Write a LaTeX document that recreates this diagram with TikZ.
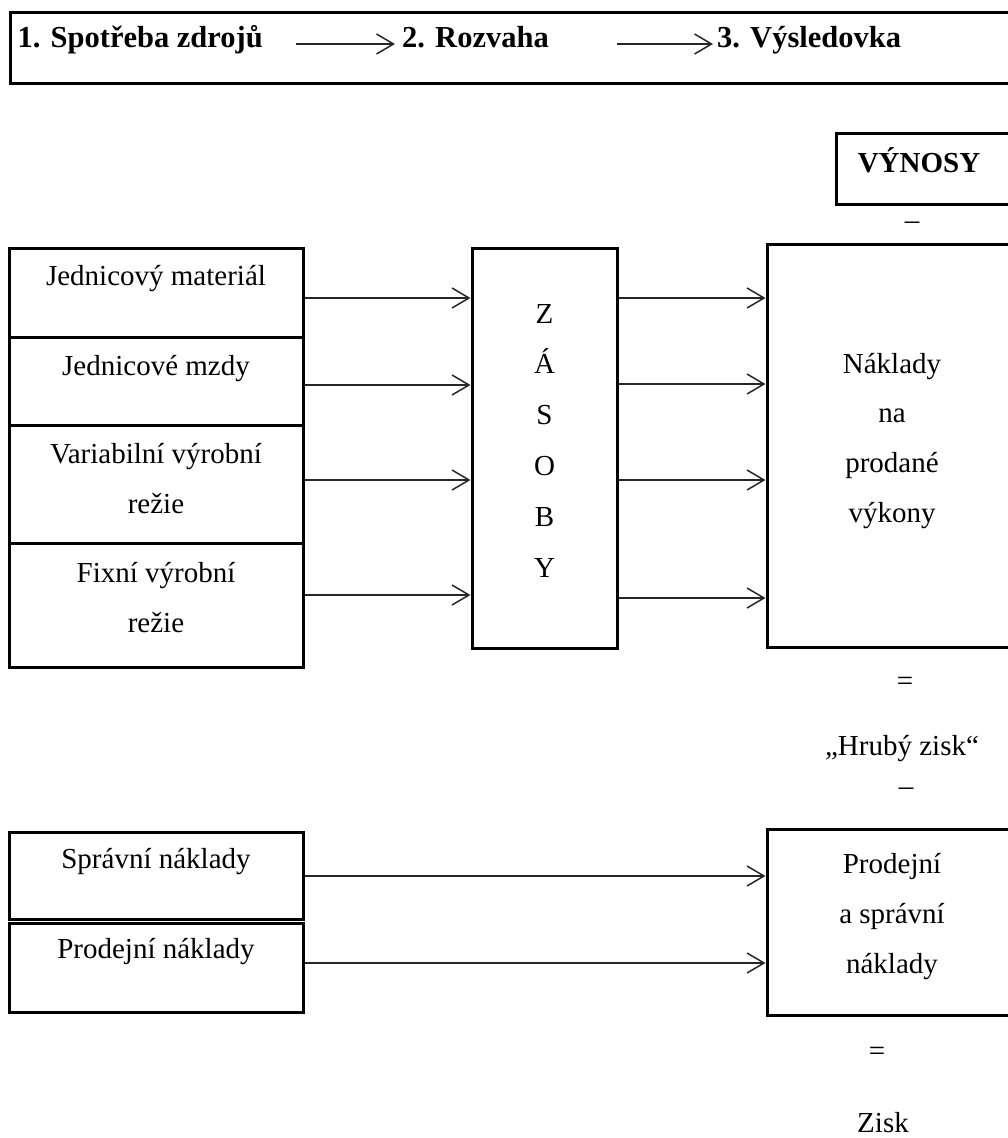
\documentclass[tikz,border=0pt]{standalone}
\usepackage{fontspec}
\setmainfont{Liberation Serif}
\usetikzlibrary{arrows.meta}
\begin{document}
\begin{tikzpicture}[x=1pt,y=-1pt,
  box/.style={draw, line width=3pt, inner sep=0pt},
  txt/.style={inner sep=0pt, anchor=base, font=\fontsize{29}{35}\selectfont},
  btxt/.style={txt, font=\fontsize{29}{35}\selectfont\bfseries},
  htxt/.style={txt, font=\fontsize{30.5}{36}\selectfont\bfseries},
  arr/.style={line width=1.5pt, draw=black!85, -{Straight Barb[length=17pt,width=20pt]}}]
\useasboundingbox (0,0) rectangle (1008,1138);
\clip (0,0) rectangle (1008,1138);

% header strip
\node[box, minimum width=1020pt, minimum height=71pt] (head) at (520,47.5) {};
\node[htxt, anchor=base east] (s1) at (263,47) {1. Spotřeba zdrojů};
\node[htxt, anchor=base west] (s2) at (402,47) {2. Rozvaha};
\node[htxt, anchor=base west] (s3) at (717,47) {3. Výsledovka};
\draw[arr] ([xshift=33pt,yshift=3pt]s1.base east) -- ([xshift=-7pt,yshift=3pt]s2.base west);
\draw[arr] ([xshift=215pt,yshift=3pt]s2.base west) -- ([xshift=-4pt,yshift=3pt]s3.base west);

% revenues
\node[box, minimum width=194pt, minimum height=71pt] (vyn) at (933,168.5) {};
\node[btxt] (vynt) at (919,172) {VÝNOSY};
\node[txt] (minus1) at (912,229) {–};

% production costs
\node[box, minimum width=294pt, minimum height=89pt] (m1) at (156,292.5) {};
\node[box, minimum width=294pt, minimum height=88pt] (m2) at (156,381) {};
\node[box, minimum width=294pt, minimum height=118pt] (m3) at (156,484) {};
\node[box, minimum width=294pt, minimum height=124pt] (m4) at (156,605) {};
\node[txt] (t1) at (156,285) {Jednicový materiál};
\node[txt] (t2) at (156,375) {Jednicové mzdy};
\node[txt] (t3a) at (156,463) {Variabilní výrobní};
\node[txt] (t3b) at (156,513) {režie};
\node[txt] (t4a) at (156,582) {Fixní výrobní};
\node[txt] (t4b) at (156,632) {režie};

% inventory
\node[box, minimum width=145pt, minimum height=400pt] (zas) at (544.5,448) {};
\foreach \l [count=\i] in {Z,Á,S,O,B,Y}
  \node[txt] (z\i) at (544.5,{323+50.8*(\i-1)}) {\l};

% cost of goods sold
\node[box, minimum width=263pt, minimum height=403pt] (nak) at (898.5,445.5) {};
\foreach \l [count=\i] in {Náklady,na,prodané,výkony}
  \node[txt] (n\i) at (892,{373+49.67*(\i-1)}) {\l};

\draw[arr] (m1.east |- 0,298) -- (zas.west |- 0,298);
\draw[arr] (m2.east |- 0,385) -- (zas.west |- 0,385);
\draw[arr] (m3.east |- 0,480) -- (zas.west |- 0,480);
\draw[arr] (m4.east |- 0,595) -- (zas.west |- 0,595);
\draw[arr] (zas.east |- 0,298) -- (nak.west |- 0,298);
\draw[arr] (zas.east |- 0,384) -- (nak.west |- 0,384);
\draw[arr] (zas.east |- 0,480) -- (nak.west |- 0,480);
\draw[arr] (zas.east |- 0,598) -- (nak.west |- 0,598);

\node[txt] (eq1) at (905,690) {=};
\node[txt] (hz) at (902,755) {„Hrubý zisk“};
\node[txt] (minus2) at (906,795) {–};

% period costs
\node[box, minimum width=294pt, minimum height=87pt] (spr) at (156,875.5) {};
\node[box, minimum width=294pt, minimum height=89pt] (pro) at (156,967.5) {};
\node[txt] (tspr) at (156,868) {Správní náklady};
\node[txt] (tpro) at (156,958) {Prodejní náklady};

\node[box, minimum width=263pt, minimum height=186pt] (psn) at (898.5,922) {};
\node[txt] (p1) at (892,873) {Prodejní};
\node[txt] (p2) at (892,923) {a správní};
\node[txt] (p3) at (892,973) {náklady};

\draw[arr] (spr.east |- 0,876) -- (psn.west |- 0,876);
\draw[arr] (pro.east |- 0,963) -- (psn.west |- 0,963);

\node[txt] (eq2) at (877,1060) {=};
\node[txt] (zisk) at (883,1132) {Zisk};
\end{tikzpicture}
\end{document}
